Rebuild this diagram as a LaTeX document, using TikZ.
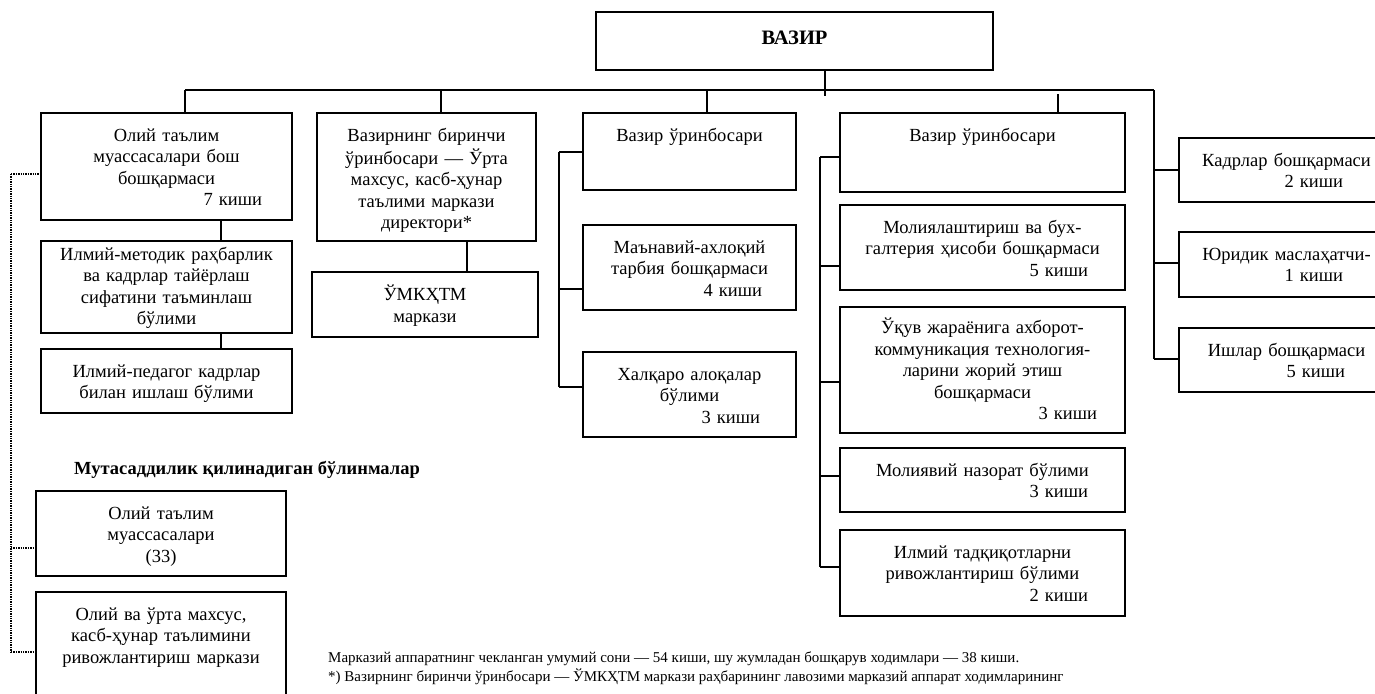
\documentclass[tikz,border=0pt]{standalone}
\usepackage{fontspec}
\setmainfont{Liberation Serif}
\usetikzlibrary{fit}
\tikzset{
  boxst/.style={draw, line width=1.8pt, inner sep=0pt},
  txtst/.style={inner sep=0pt, align=center, font=\fontsize{18.5}{21.5}\selectfont, execute at begin node=\strut},
  conn/.style={line width=1.8pt},
  dotconn/.style={line width=2.6pt, dash pattern=on 1.3pt off 1.1pt},
  foot/.style={inner sep=0pt, anchor=base west, font=\fontsize{15}{19}\selectfont},
}
% [text offset] name, x1, y1, x2, y2, text width, text
\newcommand{\obox}[8][14]{%
  \node[boxst, fit={(#3,#4)(#5,#6)}] (#2) {};
  \node[txtst, text width=#7pt, anchor=north] (#2t) at ([yshift=-#1pt]#2.north) {#8};
}
\newcommand{\kishi}[2]{\\\hspace*{\fill}#1 киши\rule{#2pt}{0pt}}
\begin{document}
\begin{tikzpicture}[x=1pt,y=-1pt]
\useasboundingbox (0,0) rectangle (1375,693);
\begin{scope}
\clip (0,0) rectangle (1375,693);
% top
\node[boxst, fit={(596,12)(993,70)}] (vazir) {};
\node[inner sep=0pt, font=\fontsize{20.5}{24}\selectfont\bfseries] (vazirt) at ([yshift=3pt]vazir.center) {ВАЗИР};

% column 1
\obox{b1}{41}{113}{292}{220}{235}{Олий таълим\\муассасалари бош\\бошқармаси\kishi{7}{22}}
\obox[5]{b1b}{41}{241}{292}{333}{235}{Илмий-методик раҳбарлик\\ва кадрлар тайёрлаш\\сифатини таъминлаш\\бўлими}
\obox{b1c}{41}{349}{292}{413}{235}{Илмий-педагог кадрлар\\билан ишлаш бўлими}

% column 2
\obox{b2}{317}{113}{536}{241}{205}{Вазирнинг биринчи\\ўринбосари — Ўрта\\махсус, касб-ҳунар\\таълими маркази\\директори*}
\obox{b2a}{312}{272}{538}{337}{210}{ЎМКҲТМ\\маркази}

% column 3
\obox{b3}{583}{113}{796}{190}{197}{Вазир ўринбосари}
\obox{b3a}{583}{225}{796}{310}{197}{Маънавий-ахлоқий\\тарбия бошқармаси\kishi{4}{26}}
\obox{b3b}{583}{352}{796}{437}{197}{Халқаро алоқалар\\бўлими\kishi{3}{28}}

% column 4
\obox{b4}{840}{113}{1125}{192}{269}{Вазир ўринбосари}
\obox{b4a}{840}{205}{1125}{290}{269}{Молиялаштириш ва бух-\\галтерия ҳисоби бошқармаси\kishi{5}{29}}
\obox[12]{b4b}{840}{307}{1125}{433}{269}{Ўқув жараёнига ахборот-\\коммуникация технология-\\ларини жорий этиш\\бошқармаси\kishi{3}{20}}
\obox{b4c}{840}{448}{1125}{512}{269}{Молиявий назорат бўлими\kishi{3}{29}}
\obox{b4d}{840}{530}{1125}{616}{269}{Илмий тадқиқотларни\\ривожлантириш бўлими\kishi{2}{29}}

% right column
\obox{r1}{1179}{138}{1394}{202}{199}{Кадрлар бошқармаси\kishi{2}{43}}
\obox{r2}{1179}{232}{1394}{297}{199}{Юридик маслаҳатчи-\kishi{1}{43}}
\obox{r3}{1179}{328}{1394}{392}{199}{Ишлар бошқармаси\kishi{5}{41}}

% subordinate
\node[inner sep=0pt, anchor=base west, font=\fontsize{18.5}{21.5}\selectfont\bfseries] (sub) at (74,474) {Мутасаддилик қилинадиган бўлинмалар};
\obox{s1}{36}{491}{286}{576}{234}{Олий таълим\\муассасалари\\(33)}
\obox{s2}{36}{592}{286}{720}{234}{Олий ва ўрта махсус,\\касб-ҳунар таълимини\\ривожлантириш маркази}

% footnote
\node[foot] (f1) at (328,662) {Марказий аппаратнинг чекланган умумий сони — 54 киши, шу жумладан бошқарув ходимлари — 38 киши.};
\node[foot] (f2) at (328,681) {*) Вазирнинг биринчи ўринбосари — ЎМКҲТМ маркази раҳбарининг лавозими марказий аппарат ходимларининг};

% connectors: main bus
\coordinate (d1) at (185,90);
\coordinate (d2) at (441,90);
\coordinate (d3) at (707,90);
\coordinate (d4) at (1058,94);
\coordinate (d5) at (1154,90);
\coordinate (vz) at (825,96);
\draw[conn] (vazir.south -| vz) -- (vz);
\draw[conn] (d1) -- (d5);
\draw[conn] (d1) -- (d1 |- b1.north);
\draw[conn] (d2) -- (d2 |- b2.north);
\draw[conn] (d3) -- (d3 |- b3.north);
\draw[conn] (d4) -- (d4 |- b4.north);

% column 1 and 2 chains
\coordinate (c1) at (221,0);
\coordinate (c2) at (467,0);
\draw[conn] (b1.south -| c1) -- (b1b.north -| c1);
\draw[conn] (b1b.south -| c1) -- (b1c.north -| c1);
\draw[conn] (b2.south -| c2) -- (b2a.north -| c2);

% column 3 spine
\coordinate (p3a) at (559,152);
\coordinate (p3b) at (559,289);
\coordinate (p3c) at (559,387);
\draw[conn] (p3a) -- (p3c);
\draw[conn] (p3a) -- (p3a -| b3.west);
\draw[conn] (p3b) -- (p3b -| b3a.west);
\draw[conn] (p3c) -- (p3c -| b3b.west);

% column 4 spine
\coordinate (p4a) at (820,157);
\coordinate (p4b) at (820,266);
\coordinate (p4c) at (820,382);
\coordinate (p4d) at (820,476);
\coordinate (p4e) at (820,567);
\draw[conn] (p4a) -- (p4e);
\draw[conn] (p4a) -- (p4a -| b4.west);
\draw[conn] (p4b) -- (p4b -| b4a.west);
\draw[conn] (p4c) -- (p4c -| b4b.west);
\draw[conn] (p4d) -- (p4d -| b4c.west);
\draw[conn] (p4e) -- (p4e -| b4d.west);

% right spine
\coordinate (p5a) at (1154,170);
\coordinate (p5b) at (1154,263);
\coordinate (p5c) at (1154,359);
\draw[conn] (d5) -- (p5c);
\draw[conn] (p5a) -- (p5a -| r1.west);
\draw[conn] (p5b) -- (p5b -| r2.west);
\draw[conn] (p5c) -- (p5c -| r3.west);

% dotted responsibility line
\coordinate (q1) at (11,174);
\coordinate (q2) at (11,548);
\coordinate (q3) at (11,652);
\draw[dotconn] (q1) -- (q3);
\draw[dotconn] (q1) -- (q1 -| b1.west);
\draw[dotconn] (q2) -- (q2 -| s1.west);
\draw[dotconn] (q3) -- (q3 -| s2.west);
\end{scope}
\end{tikzpicture}
\end{document}
